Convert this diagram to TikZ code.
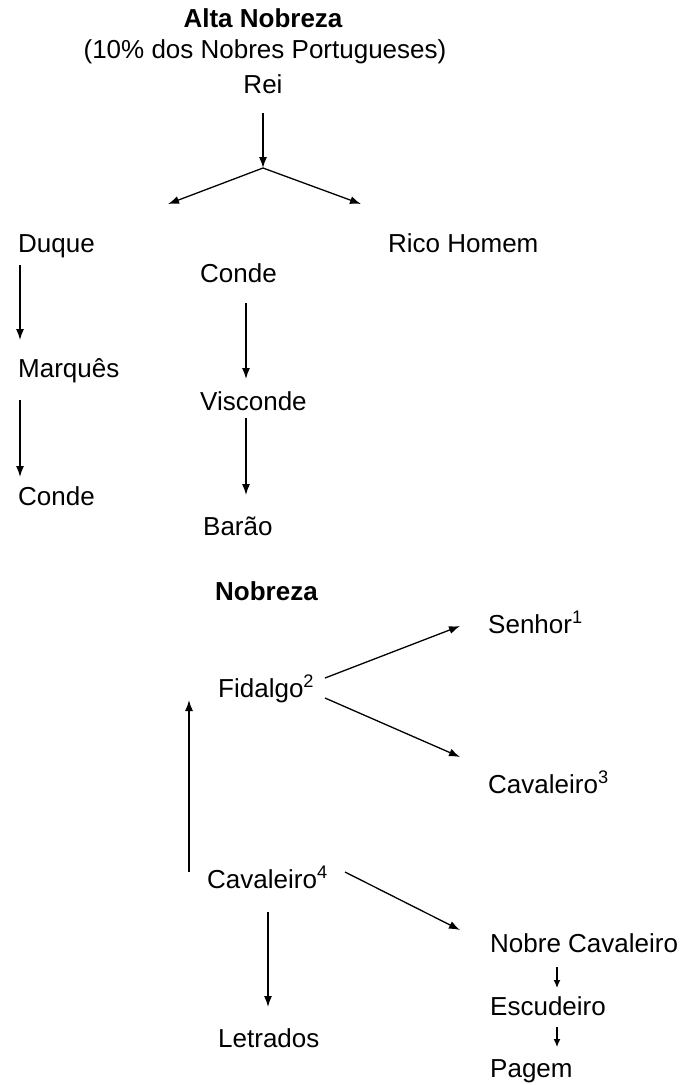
\documentclass[tikz,border=0pt]{standalone}
\usepackage{fontspec}
\setmainfont{Liberation Sans}
\usetikzlibrary{arrows.meta}
\newcommand{\fsz}{\fontsize{26}{31}\selectfont}
\begin{document}
\begin{tikzpicture}[x=1pt,y=-1pt,
  lbl/.style={inner sep=0pt,anchor=base west,font=\fsz},
  arr/.style={line width=1.3pt,-{Latex[length=11pt,width=8pt]}},
  sarr/.style={line width=1.3pt,-{Latex[length=8pt,width=7pt]}}]
\useasboundingbox[fill=white] (0,0) rectangle (684,1085);
% top section
\node[lbl,anchor=base,font=\fsz\bfseries] (alta) at (263,27) {Alta Nobreza};
\node[lbl,anchor=base] (pct) at (265,58) {(10\% dos Nobres Portugueses)};
\node[lbl,anchor=base] (rei) at (263,93) {Rei};
\coordinate (split) at (263,168);
\coordinate (bl) at (168,204);
\coordinate (br) at (361,204);
\draw[arr] ([yshift=-20pt]rei.base) -- (split);
\draw[arr] (split) -- (bl);
\draw[arr] (split) -- (br);
% left column
\node[lbl] (duque) at (18,252) {Duque};
\node[lbl] (marq) at (18,377) {Marquês};
\node[lbl] (conde1) at (18,505) {Conde};
\draw[arr] ([shift={(2,13)}]duque.base west) -- ([shift={(2,-37)}]marq.base west);
\draw[arr] ([shift={(2,23)}]marq.base west) -- ([shift={(2,-28)}]conde1.base west);
% middle column
\node[lbl] (conde2) at (200,282) {Conde};
\node[lbl] (visc) at (200,410) {Visconde};
\node[lbl] (barao) at (203,535) {Barão};
\draw[arr] ([shift={(46,21)}]conde2.base west) -- ([shift={(46,-31)}]visc.base west);
\draw[arr] ([shift={(46,8)}]visc.base west) -- ([shift={(43,-40)}]barao.base west);
% right
\node[lbl] (rico) at (388,252) {Rico Homem};
% Nobreza section
\node[lbl,font=\fsz\bfseries] (nob) at (215,600) {Nobreza};
\node[lbl] (senhor) at (488,633) {Senhor\textsuperscript{1}};
\node[lbl] (fidalgo) at (218,697) {Fidalgo\textsuperscript{2}};
\node[lbl] (cav3) at (488,793) {Cavaleiro\textsuperscript{3}};
\node[lbl] (cav4) at (207,888) {Cavaleiro\textsuperscript{4}};
\node[lbl] (nobcav) at (490,952) {Nobre Cavaleiro};
\node[lbl] (letr) at (218,1047) {Letrados};
\node[lbl] (escud) at (490,1015) {Escudeiro};
\node[lbl] (pagem) at (490,1077) {Pagem};
\draw[arr] ([shift={(107,-19)}]fidalgo.base west) -- ([shift={(-28,-7)}]senhor.base west);
\draw[arr] ([shift={(107,1)}]fidalgo.base west) -- ([shift={(-28,-36)}]cav3.base west);
\draw[arr] ([shift={(-18,-16)}]cav4.base west) -- ([shift={(-29,3)}]fidalgo.base west);
\draw[arr] ([shift={(138,-16)}]cav4.base west) -- ([shift={(-30,-22)}]nobcav.base west);
\draw[arr] ([shift={(61,24)}]cav4.base west) -- ([shift={(50,-40)}]letr.base west);
\draw[sarr] ([shift={(67,15)}]nobcav.base west) -- ([shift={(67,-27)}]escud.base west);
\draw[sarr] ([shift={(67,12)}]escud.base west) -- ([shift={(67,-30)}]pagem.base west);
\end{tikzpicture}
\end{document}
